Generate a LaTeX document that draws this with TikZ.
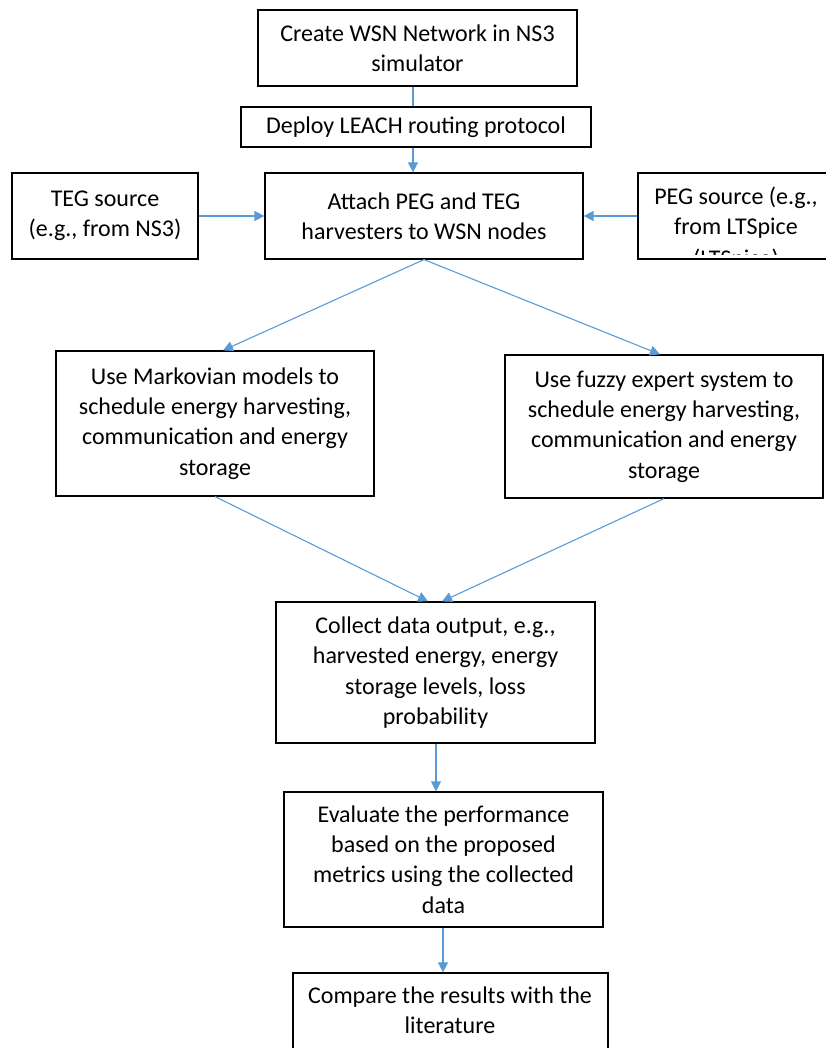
\documentclass[tikz,border=0pt]{standalone}
\usepackage{fontspec}
\setmainfont{Carlito}
\usetikzlibrary{arrows.meta}
\definecolor{linkblue}{RGB}{91,155,213}
\begin{document}
\begin{tikzpicture}[x=1pt,y=-1pt,
  frame/.style={draw=black, line width=1.2pt, rectangle, inner sep=6pt,
    align=center, font=\fontsize{24}{30.3}\selectfont},
  linetext/.style={inner sep=0pt, font=\fontsize{24}{30.3}\selectfont},
  link/.style={draw=linkblue, line width=1.1pt},
  arrowlink/.style={link, -{Triangle[length=10pt,width=10pt]}}]

\useasboundingbox (0,0) rectangle (826,1048);
\clip (0,0) rectangle (826,1048);

% process boxes
\node[frame, minimum width=319pt, minimum height=76pt] (create) at (417.5,48)
  {Create WSN Network in NS3\\simulator};
\node[frame, minimum width=350pt, minimum height=40pt] (leach) at (416,127)
  {Deploy LEACH routing protocol};
\node[frame, minimum width=318pt, minimum height=86pt] (attach) at (424,216)
  {Attach PEG and TEG\\harvesters to WSN nodes};
\node[frame, minimum width=186pt, minimum height=86pt] (teg) at (105,216)
  {TEG source\\(e.g., from NS3)};

% PEG source box: its text overflows and is cut just inside the border
\node[frame, minimum width=196pt, minimum height=86pt] (peg) at (736,216) {};
\coordinate (pegcut) at (0,255);
\begin{scope}
  \clip (peg.north west) rectangle (peg.east |- pegcut);
  \node[linetext, anchor=base] (peg1) at (736,205) {PEG source (e.g.,};
  \node[linetext, anchor=base] (peg2) at (736,235) {from LTSpice};
  \node[linetext, anchor=base] (peg3) at (736,267) {(LTSpice)};
\end{scope}

\node[frame, minimum width=318pt, minimum height=145pt] (markov) at (215,423.5)
  {Use Markovian models to\\schedule energy harvesting,\\communication and energy\\storage};
\node[frame, minimum width=318pt, minimum height=143pt] (fuzzy) at (664,426.5)
  {Use fuzzy expert system to\\schedule energy harvesting,\\communication and energy\\storage};
\node[frame, minimum width=319pt, minimum height=141pt] (collect) at (435.5,672.5)
  {Collect data output, e.g.,\\harvested energy, energy\\storage levels, loss\\probability};
\node[frame, minimum width=319pt, minimum height=135pt] (evaluate) at (443.5,859.5)
  {Evaluate the performance\\based on the proposed\\metrics using the collected\\data};

% last box runs past the lower edge
\node[frame, minimum width=315pt, minimum height=120pt] (compare) at (450.5,1033) {};
\node[linetext, anchor=base] (compare1) at (450,1003) {Compare the results with the};
\node[linetext, anchor=base] (compare2) at (450,1033) {literature};

% connector columns
\coordinate (colA) at (413,0);
\coordinate (colB) at (223,0);
\coordinate (colC) at (660,0);
\coordinate (colD) at (428,0);
\coordinate (colE) at (442,0);
\coordinate (colF) at (436,0);
\coordinate (colG) at (443,0);

% connectors
\draw[link] (create.south -| colA) -- (leach.north -| colA);
\draw[arrowlink] (leach.south -| colA) -- (attach.north -| colA);
\draw[arrowlink] (teg.east) -- (attach.west);
\draw[arrowlink] (peg.west) -- (attach.east);
\draw[arrowlink] (attach.south) -- (markov.north -| colB);
\draw[arrowlink] (attach.south) -- (fuzzy.north -| colC);
\draw[arrowlink] (markov.south) -- (collect.north -| colD);
\draw[arrowlink] (fuzzy.south) -- (collect.north -| colE);
\draw[arrowlink] (collect.south -| colF) -- (evaluate.north -| colF);
\draw[arrowlink] (evaluate.south -| colG) -- (compare.north -| colG);
\end{tikzpicture}
\end{document}
